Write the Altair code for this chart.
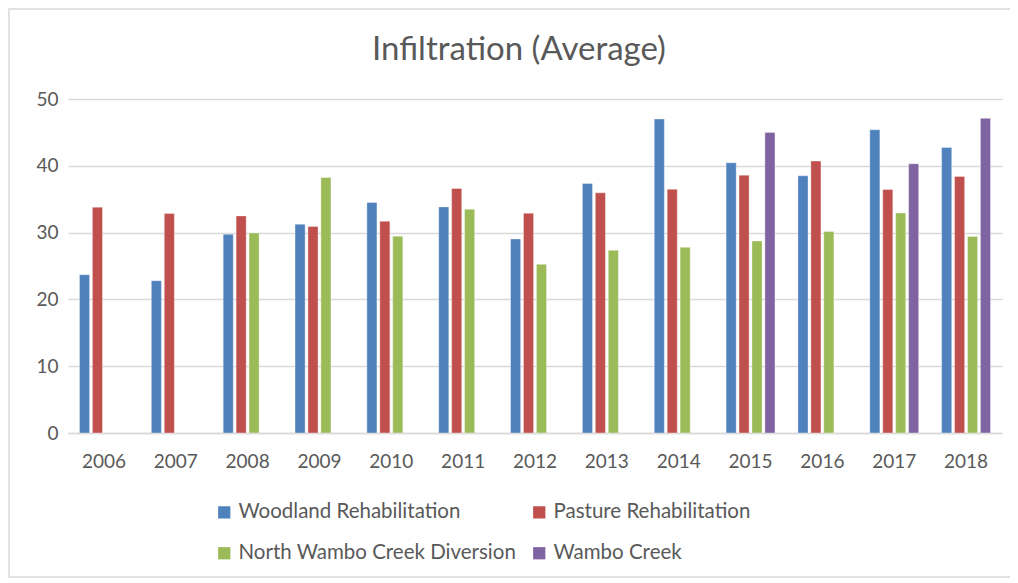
import altair as alt
import pandas as pd

years = ["2006", "2007", "2008", "2009", "2010", "2011", "2012",
         "2013", "2014", "2015", "2016", "2017", "2018"]
series = ["Woodland Rehabilitation", "Pasture Rehabilitation",
          "North Wambo Creek Diversion", "Wambo Creek"]
woodland = [23.7, 22.8, 29.75, 31.25, 34.5, 33.85, 29.05, 37.35, 47.0, 40.45, 38.5, 45.4, 42.75]
pasture = [33.8, 32.85, 32.5, 30.9, 31.7, 36.6, 32.9, 35.95, 36.5, 38.6, 40.7, 36.45, 38.4]
north = [None, None, 29.95, 38.25, 29.45, 33.5, 25.25, 27.35, 27.8, 28.75, 30.15, 32.95, 29.4]
wambo = [None, None, None, None, None, None, None, None, None, 45.0, None, 40.3, 47.1]
colors = ["#4F81BD", "#C0504D", "#9BBB59", "#8064A2"]

rows = []
for name, vals in zip(series, [woodland, pasture, north, wambo]):
    for y, v in zip(years, vals):
        if v is not None:
            rows.append({"Year": y, "Series": name, "Value": v})
df = pd.DataFrame(rows)

FONT = "Lato"
GRAY = "#595959"
GRID = "#D9D9D9"

bars = alt.Chart(df).mark_bar(stroke="white", strokeWidth=0.6, strokeOpacity=0.6).encode(
    x=alt.X("Year:N", sort=years,
            scale=alt.Scale(paddingInner=0.28, paddingOuter=0.14),
            axis=alt.Axis(title=None, labelAngle=0, ticks=False, domain=True,
                          domainColor=GRID, domainWidth=1.5, labelPadding=19,
                          labelFontSize=19, labelColor=GRAY, labelFont=FONT, grid=False)),
    xOffset=alt.XOffset("Series:N", sort=series,
                        scale=alt.Scale(domain=series, paddingInner=0.22, paddingOuter=0.11)),
    y=alt.Y("Value:Q", scale=alt.Scale(domain=[0, 50]),
            axis=alt.Axis(title=None, values=[0, 10, 20, 30, 40, 50], ticks=False,
                          domain=False, gridColor=GRID, gridWidth=1.5, labelPadding=10,
                          labelFontSize=19, labelColor=GRAY, labelFont=FONT)),
    color=alt.Color("Series:N", sort=series,
                    scale=alt.Scale(domain=series, range=colors),
                    legend=alt.Legend(title=None, orient="none", legendX=146, legendY=403,
                                      direction="horizontal",
                                      columns=2, symbolType="square", symbolSize=150,
                                      symbolStrokeWidth=0, labelFontSize=20.5,
                                      labelColor=GRAY, labelFont=FONT, rowPadding=20,
                                      columnPadding=12, labelOffset=4, labelLimit=400)),
)

border = alt.Chart(pd.DataFrame({"a": [0]})).mark_rect(
    fill=None, stroke="#D9D9D9", strokeWidth=1.5).encode(
    x=alt.value(-59), x2=alt.value(943), y=alt.value(-90), y2=alt.value(478))

chart = alt.layer(border, bars).properties(
    width=934, height=334,
    padding={"left": 60, "top": 91, "right": 8, "bottom": 145},
    autosize=alt.AutoSizeParams(type="none"),
    title=alt.TitleParams("Infiltration (Average)", fontSize=33, font=FONT,
                          fontWeight="normal", color=GRAY, anchor="middle",
                          frame="group", dx=-16, offset=-59),
).configure_view(stroke=None)

chart.save("out.html", embed_options={"renderer": "svg", "actions": False})
